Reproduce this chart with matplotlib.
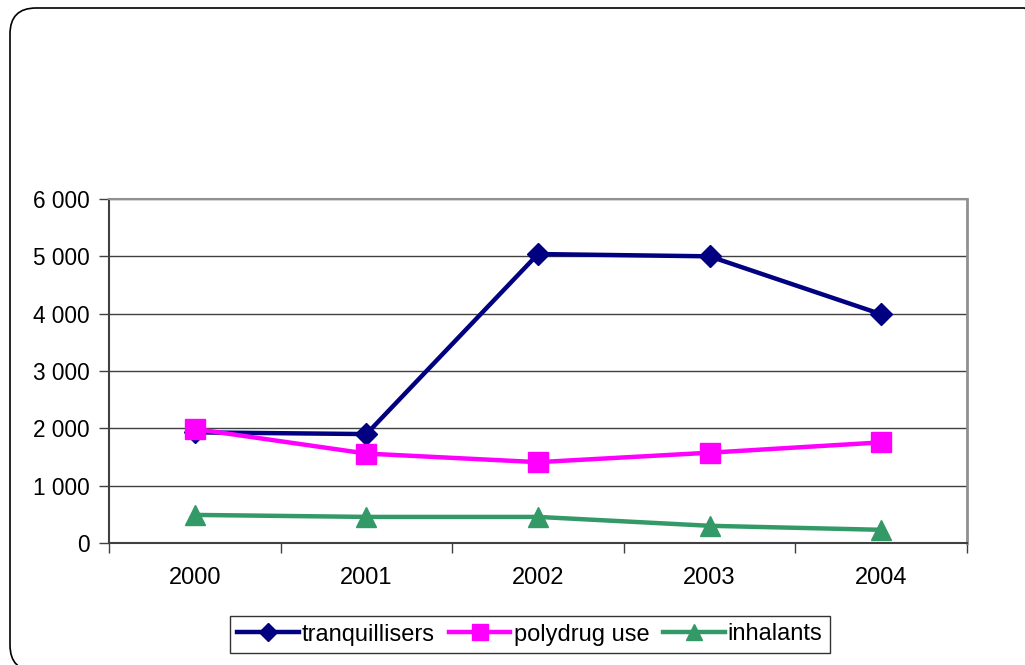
import matplotlib
matplotlib.use("Agg")
import matplotlib.pyplot as plt
from matplotlib.patches import FancyBboxPatch
from matplotlib.transforms import IdentityTransform
from matplotlib.ticker import FixedLocator, FuncFormatter
from matplotlib.lines import Line2D

years = ["2000", "2001", "2002", "2003", "2004"]
tranquillisers = [1930, 1900, 5040, 5000, 3990]
polydrug_use = [1990, 1560, 1410, 1575, 1755]
inhalants = [490, 455, 455, 300, 230]

series_names = ["tranquillisers", "polydrug use", "inhalants"]
colors = ["#000080", "#FF00FF", "#339966"]
markers = ["D", "s", "^"]
msizes = [11.5, 14, 14.5]

W, H = 1025, 665
plt.rcParams['font.family'] = ['Liberation Sans', 'DejaVu Sans']
fig = plt.figure(figsize=(W / 100, H / 100), dpi=100)

# rounded outer frame drawn in display pixels (origin bottom-left)
fx0, fy_top, fx1, fy_bot = 10, 8, 1050, 671
frame = FancyBboxPatch((fx0, H - fy_bot), fx1 - fx0, fy_bot - fy_top,
                       boxstyle="round,pad=0,rounding_size=26",
                       transform=IdentityTransform(),
                       fill=False, edgecolor="black", linewidth=1.2)
fig.patches.append(frame)

left, right, top, bottom = 109, 967, 199, 543
ax = fig.add_axes([left / W, (H - bottom) / H, (right - left) / W, (bottom - top) / H])

x = list(range(len(years)))
data = [tranquillisers, polydrug_use, inhalants]
for vals, name, c, m, ms in zip(data, series_names, colors, markers, msizes):
    ax.plot(x, vals, color=c, lw=3.2, marker=m, markersize=ms,
            markeredgecolor=c, label=name, clip_on=False, zorder=3)

ax.set_xlim(-0.5, len(years) - 0.5)
ax.set_ylim(0, 6000)
ax.set_yticks(range(0, 6001, 1000))
ax.yaxis.set_major_formatter(FuncFormatter(lambda v, p: f"{int(v):,}".replace(",", " ")))
ax.set_xticks(x)
ax.set_xticklabels(years)
ax.xaxis.set_minor_locator(FixedLocator([i - 0.5 for i in range(len(years) + 1)]))
ax.tick_params(axis="x", which="major", length=0, pad=17, labelsize=17)
ax.tick_params(axis="x", which="minor", length=7, width=1, color="#404040", direction="out")
ax.tick_params(axis="y", length=7, width=1, color="#404040", labelsize=16.3, pad=7)

ax.grid(axis="y", color="#404040", lw=1, zorder=1)
ax.set_axisbelow(True)
ax.spines["left"].set_color("#404040")
ax.spines["left"].set_linewidth(1.5)
ax.spines["bottom"].set_color("#404040")
ax.spines["bottom"].set_linewidth(1.5)
ax.spines["right"].set_color("#909090")
ax.spines["right"].set_linewidth(2)
ax.spines["top"].set_color("#909090")
ax.spines["top"].set_linewidth(1.5)

handles = [Line2D([0], [0], color=c, lw=3.2, marker=m, markersize=ms * 0.8, markeredgecolor=c)
           for c, m, ms in zip(colors, markers, msizes)]
leg = fig.legend(handles, series_names, loc="center", bbox_to_anchor=(530 / W, (H - 634.5) / H),
                 ncol=3, frameon=True, fancybox=False, edgecolor="black", fontsize=17,
                 handlelength=2.6, handletextpad=0.13, columnspacing=0.6,
                 borderpad=0.3, borderaxespad=0)
leg.get_frame().set_linewidth(1)

fig.savefig("out.png", dpi=100)
